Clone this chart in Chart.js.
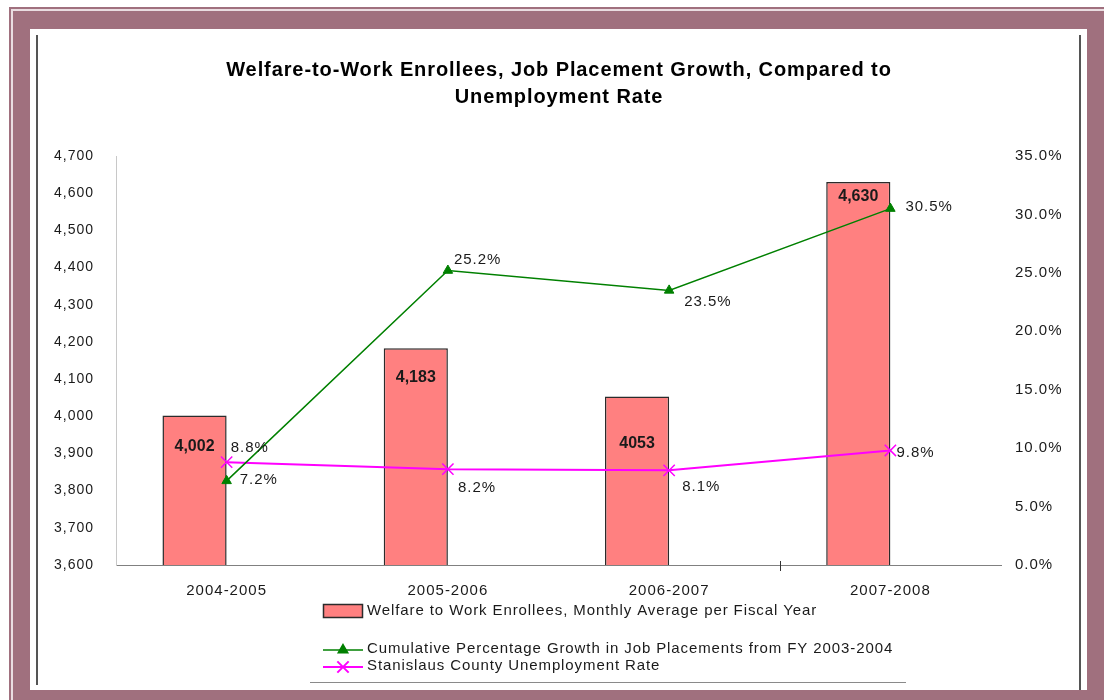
<!DOCTYPE html>
<html>
<head>
<meta charset="utf-8">
<script src="https://cdn.jsdelivr.net/npm/chart.js@4.4.0/dist/chart.umd.min.js"></script>
<style>
html,body{margin:0;padding:0;width:1104px;height:700px;overflow:hidden;background:#fff;}
.abs{position:absolute;}
#f1{left:9px;top:7px;width:1110px;height:710px;background:#a0707e;}
#f2{left:11px;top:9px;width:1110px;height:710px;background:#eadde1;}
#f3{left:13px;top:11px;width:1110px;height:710px;background:#a0707e;}
#inner{left:30px;top:29px;width:1057px;height:661px;background:#fff;}
#lineL{left:36px;top:35px;width:2px;height:650px;background:#555;}
#lineR{left:1079px;top:35px;width:2px;height:655px;background:#555;}
#lineB{left:310px;top:682px;width:596px;height:1px;background:#8a8a8a;}
canvas{position:absolute;left:0;top:0;}
</style>
</head>
<body>
<div class="abs" id="f1"></div>
<div class="abs" id="f2"></div>
<div class="abs" id="f3"></div>
<div class="abs" id="inner"></div>
<div class="abs" id="lineL"></div>
<div class="abs" id="lineR"></div>
<div class="abs" id="lineB"></div>
<canvas id="c" width="1104" height="700"></canvas>
<script>
// ---- data ----
const titleLines = ['Welfare-to-Work Enrollees, Job Placement Growth, Compared to', 'Unemployment Rate'];
const categories = ['2004-2005', '2005-2006', '2006-2007', '2007-2008'];
const enrollees = [4002, 4183, 4053, 4630];
const enrolleeLabels = ['4,002', '4,183', '4053', '4,630'];
const jobGrowth = [7.2, 25.2, 23.5, 30.5];
const unemployment = [8.8, 8.2, 8.1, 9.8];
const leftAxisRange = [3600, 4700, 100];
const rightAxisRange = [0, 35, 5];
const seriesNames = [
  'Welfare to Work Enrollees, Monthly Average per Fiscal Year',
  'Cumulative Percentage Growth in Job Placements from FY 2003-2004',
  'Stanislaus County Unemployment Rate'
];

// ---- label placement (style) ----
const barLabelDy = [31, 29, 47, 15];
const growthLabelOff = [[13, -1], [6, -11], [15, 11], [15, -2]];
const unempLabelOff = [[4, -14], [10, 19], [13, 17], [6, 2]];

const FONT = "'Liberation Sans', Arial, sans-serif";
const TXT = '#1a1a1a';

const spacingPlugin = {
  id: 'spacing',
  beforeLayout(chart) { chart.ctx.letterSpacing = '1px'; },
  beforeDraw(chart) { chart.ctx.letterSpacing = '1px'; }
};

const annotPlugin = {
  id: 'annot',
  afterDatasetsDraw(chart) {
    const ctx = chart.ctx;
    ctx.save();
    // stray category-boundary tick on the x axis
    const xs = chart.scales.x;
    const bx = Math.round((xs.getPixelForValue(2) + xs.getPixelForValue(3)) / 2) + 0.5;
    ctx.strokeStyle = '#333';
    ctx.lineWidth = 1;
    ctx.beginPath(); ctx.moveTo(bx, chart.chartArea.bottom - 4); ctx.lineTo(bx, chart.chartArea.bottom + 6); ctx.stroke();
    // bar value labels
    ctx.letterSpacing = '0px';
    ctx.font = 'bold 16px ' + FONT;
    ctx.fillStyle = TXT;
    ctx.textAlign = 'center';
    ctx.textBaseline = 'middle';
    chart.getDatasetMeta(0).data.forEach((el, i) => {
      ctx.fillText(enrolleeLabels[i], el.x, el.y + barLabelDy[i]);
    });
    // point labels
    ctx.letterSpacing = '1px';
    ctx.font = '15px ' + FONT;
    ctx.textAlign = 'left';
    const pl = (di, vals, offs) => {
      chart.getDatasetMeta(di).data.forEach((el, i) => {
        ctx.fillText(vals[i].toFixed(1) + '%', el.x + offs[i][0], el.y + offs[i][1]);
      });
    };
    pl(2, jobGrowth, growthLabelOff);
    pl(3, unemployment, unempLabelOff);
    ctx.restore();
  },
  afterDraw(chart) {
    const ctx = chart.ctx;
    ctx.save();
    // title
    ctx.letterSpacing = '0.9px';
    ctx.font = 'bold 20px ' + FONT;
    ctx.fillStyle = '#000';
    ctx.textAlign = 'center';
    ctx.textBaseline = 'middle';
    titleLines.forEach((t, i) => ctx.fillText(t, 559, 70 + i * 27));
    // legend
    const ds = chart.data.datasets;
    ctx.font = '15px ' + FONT;
    ctx.letterSpacing = '0.9px';
    ctx.textAlign = 'left';
    // bar item
    ctx.fillStyle = ds[0].backgroundColor;
    ctx.fillRect(323, 604, 40, 14);
    ctx.strokeStyle = ds[0].borderColor;
    ctx.lineWidth = 1.5;
    ctx.strokeRect(323.5, 604.5, 39, 13);
    ctx.fillStyle = TXT;
    ctx.fillText(ds[0].label, 367, 611);
    // line items
    [[2, 649], [3, 666]].forEach(([di, y]) => {
      const d = ds[di];
      ctx.strokeStyle = d.borderColor;
      ctx.lineWidth = d.borderWidth;
      ctx.beginPath(); ctx.moveTo(323, y + 1); ctx.lineTo(363, y + 1); ctx.stroke();
      ctx.fillStyle = d.pointBackgroundColor;
      ctx.strokeStyle = d.pointBorderColor;
      Chart.helpers.drawPoint(ctx, {pointStyle: d.pointStyle, radius: d.pointRadius, borderWidth: d.pointBorderWidth, rotation: 0}, 343, y + 1);
      ctx.fillStyle = TXT;
      ctx.fillText(d.label, 367, y);
    });
    ctx.restore();
  }
};

new Chart(document.getElementById('c'), {
  data: {
    labels: categories,
    datasets: [
      {
        type: 'bar', label: seriesNames[0], data: enrollees, yAxisID: 'y',
        backgroundColor: '#ff8080', borderColor: '#2b2b2b', borderWidth: 1.5,
        categoryPercentage: 0.58, barPercentage: 1.0, order: 2
      },
      {
        type: 'bar', label: '', data: categories.map(() => null), yAxisID: 'y',
        backgroundColor: 'rgba(0,0,0,0)', categoryPercentage: 0.58, barPercentage: 1.0, order: 2
      },
      {
        type: 'line', label: seriesNames[1], data: jobGrowth, yAxisID: 'y2',
        borderColor: '#008000', borderWidth: 1.5, tension: 0,
        pointStyle: 'triangle', pointRadius: 5.5, pointBorderWidth: 1,
        pointBackgroundColor: '#008000', pointBorderColor: '#008000', order: 0
      },
      {
        type: 'line', label: seriesNames[2], data: unemployment, yAxisID: 'y2',
        borderColor: '#ff00ff', borderWidth: 2, tension: 0,
        pointStyle: 'crossRot', pointRadius: 8, pointBorderWidth: 1.5,
        pointBackgroundColor: '#ff00ff', pointBorderColor: '#ff00ff', order: 1
      }
    ]
  },
  options: {
    responsive: false,
    animation: false,
    devicePixelRatio: 1,
    layout: {padding: {top: 156, left: 0, right: 0, bottom: 0}},
    plugins: {legend: {display: false}, title: {display: false}, tooltip: {enabled: false}},
    scales: {
      x: {
        grid: {display: false, drawTicks: false},
        border: {display: true, color: '#808080', width: 1},
        ticks: {font: {family: FONT, size: 15}, color: TXT, padding: 17},
        afterFit(s) { s.height = 135; }
      },
      y: {
        position: 'left', min: leftAxisRange[0], max: leftAxisRange[1],
        grid: {display: false, drawTicks: false},
        border: {display: true, color: '#c8c8c8', width: 1},
        ticks: {stepSize: leftAxisRange[2], font: {family: FONT, size: 14}, color: TXT, padding: 22,
          callback: v => v.toLocaleString('en-US')},
        afterFit(s) { s.width = 116; }
      },
      y2: {
        position: 'right', min: rightAxisRange[0], max: rightAxisRange[1],
        grid: {display: false, drawTicks: false},
        border: {display: false},
        ticks: {stepSize: rightAxisRange[2], font: {family: FONT, size: 15}, color: TXT, padding: 14,
          callback: v => v.toFixed(1) + '%'},
        afterFit(s) { s.width = 103; }
      }
    }
  },
  plugins: [spacingPlugin, annotPlugin]
});
</script>
</body>
</html>
